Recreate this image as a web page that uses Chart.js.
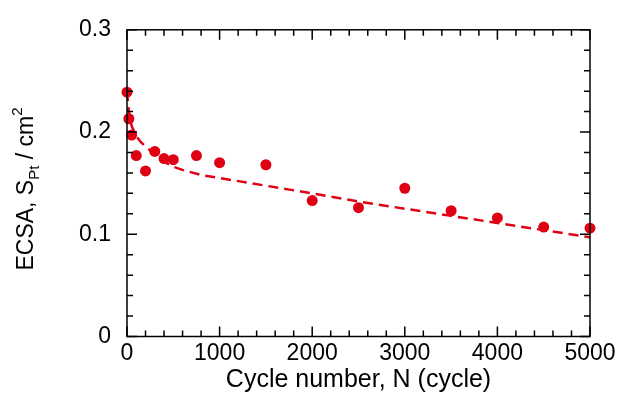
<!DOCTYPE html>
<html>
<head>
<meta charset="utf-8">
<script src="https://cdn.jsdelivr.net/npm/chart.js@4"></script>
<style>
  html, body { margin: 0; padding: 0; background: #fff; }
  #wrap { width: 621px; height: 395px; }
</style>
</head>
<body>
<div id="wrap"><canvas id="c" width="621" height="395"></canvas></div>
<script>
// measured points
const cycles = [0, 20, 50, 100, 200, 300, 400, 500, 750, 1000, 1500, 2000, 2500, 3000, 3500, 4000, 4500, 5000];
const ecsa = [0.239, 0.213, 0.197, 0.177, 0.162, 0.181, 0.174, 0.173, 0.177, 0.170, 0.168, 0.133, 0.126, 0.145, 0.123, 0.116, 0.107, 0.106];

// fitted curve (dashed)
const fitX = [0, 20, 50, 100, 150, 250, 400, 500, 600, 800, 1000, 1500, 2000, 2500, 3000, 3500, 4000, 4500, 5000];
const fitY = [0.240, 0.220, 0.206, 0.196, 0.190, 0.182, 0.171, 0.166, 0.163, 0.158, 0.155, 0.1475, 0.140, 0.132, 0.125, 0.118, 0.111, 0.104, 0.097];

const xTicks = [0, 1000, 2000, 3000, 4000, 5000];
const yTicks = [0, 0.1, 0.2, 0.3];

const red = 'rgb(224,0,20)';
const fontFam = '"Liberation Sans", Arial, sans-serif';

// frame + inward ticks on all four sides, and y title with sub/superscript
const framePlugin = {
    id: 'frame',
    afterDraw(ch) {
        const ctx = ch.ctx, a = ch.chartArea;
        const xs = ch.scales.x, ys = ch.scales.y;
        ctx.save();
        ctx.strokeStyle = '#000';
        ctx.lineWidth = 1.5;
        ctx.strokeRect(a.left, a.top, a.right - a.left, a.bottom - a.top);
        ctx.beginPath();
        for (let v = 0; v <= 5000; v += 200) {
            const p = xs.getPixelForValue(v);
            const len = (v % 1000 === 0) ? 10 : 6;
            ctx.moveTo(p, a.bottom); ctx.lineTo(p, a.bottom - len);
            ctx.moveTo(p, a.top); ctx.lineTo(p, a.top + len);
        }
        for (let i = 0; i <= 15; i++) {
            const p = ys.getPixelForValue(i * 0.02);
            const len = (i % 5 === 0) ? 10 : 6;
            ctx.moveTo(a.left, p); ctx.lineTo(a.left + len, p);
            ctx.moveTo(a.right, p); ctx.lineTo(a.right - len, p);
        }
        ctx.stroke();

        // y axis title
        const parts = [
            { t: 'ECSA, S', size: 23, dy: 0 },
            { t: 'Pt', size: 15, dy: 6 },
            { t: ' / cm', size: 23, dy: 0 },
            { t: '2', size: 15, dy: -11 }
        ];
        let total = 0;
        parts.forEach(p => { ctx.font = p.size + 'px ' + fontFam; p.w = ctx.measureText(p.t).width; total += p.w; });
        ctx.translate(33, 189);
        ctx.rotate(-Math.PI / 2);
        ctx.fillStyle = '#000';
        ctx.textBaseline = 'alphabetic';
        let x = -total / 2;
        parts.forEach(p => {
            ctx.font = p.size + 'px ' + fontFam;
            ctx.fillText(p.t, x, p.dy);
            x += p.w;
        });
        ctx.restore();
    }
};

new Chart(document.getElementById('c'), {
    type: 'scatter',
    data: {
        datasets: [
            {
                data: cycles.map((c, i) => ({ x: c, y: ecsa[i] })),
                backgroundColor: red,
                borderColor: red,
                pointRadius: 5.5,
                borderWidth: 0,
                clip: false
            },
            {
                data: fitX.map((c, i) => ({ x: c, y: fitY[i] })),
                showLine: true,
                borderColor: red,
                borderWidth: 2.5,
                borderDash: [10, 6],
                pointRadius: 0,
                tension: 0,
                clip: false
            }
        ]
    },
    options: {
        responsive: false,
        animation: false,
        devicePixelRatio: 1,
        layout: { padding: { left: 0, top: 25.5, right: 31, bottom: 0 } },
        plugins: { legend: { display: false }, tooltip: { enabled: false } },
        scales: {
            x: {
                type: 'linear', min: 0, max: 5000,
                afterBuildTicks: s => { s.ticks = xTicks.map(v => ({ value: v })); },
                afterFit: s => { s.height = 58.5; },
                grid: { display: false, drawTicks: false },
                border: { display: false },
                ticks: { color: '#000', padding: 3, font: { family: fontFam, size: 23 }, callback: v => String(v) },
                title: { display: true, text: 'Cycle number, N (cycle)', color: '#000', padding: { top: 0, bottom: 0 }, font: { family: fontFam, size: 25 } }
            },
            y: {
                min: 0, max: 0.3,
                afterBuildTicks: s => { s.ticks = yTicks.map(v => ({ value: v })); },
                afterFit: s => { s.width = 127; },
                grid: { display: false, drawTicks: false },
                border: { display: false },
                ticks: { color: '#000', padding: 16, font: { family: fontFam, size: 23 }, callback: v => v === 0 ? '0' : v.toFixed(1) }
            }
        }
    },
    plugins: [framePlugin]
});
</script>
</body>
</html>
